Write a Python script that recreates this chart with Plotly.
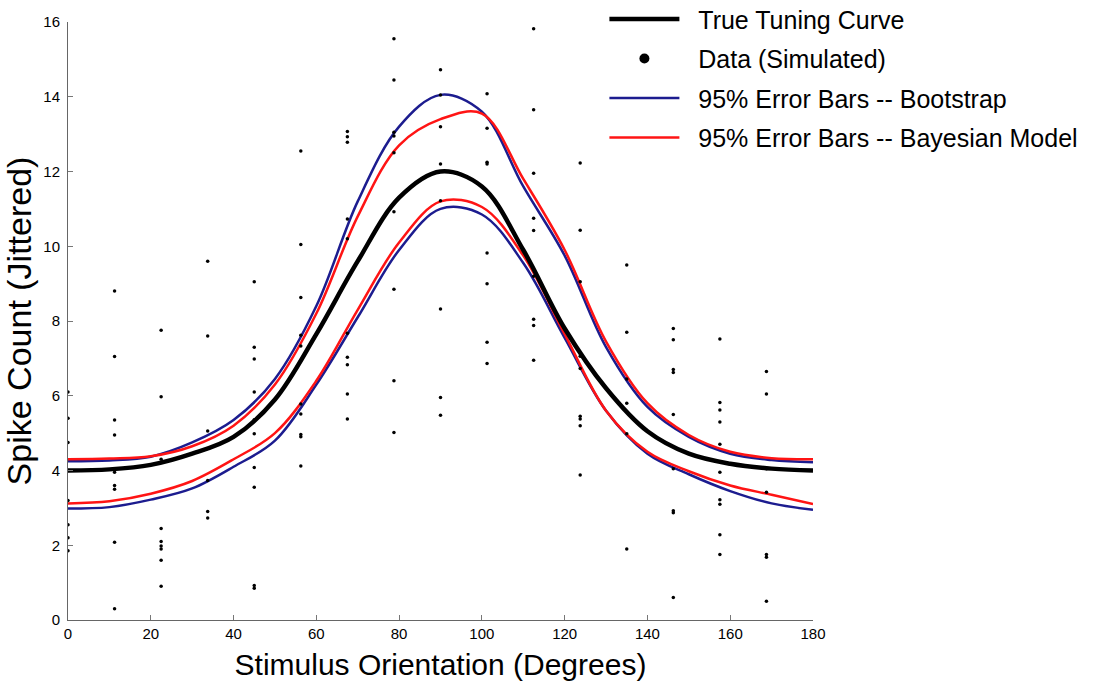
import plotly.graph_objects as go

# ---- data ----
orientations = [0, 11.25, 22.5, 33.75, 45, 56.25, 67.5, 78.75, 90,
                101.25, 112.5, 123.75, 135, 146.25, 157.5, 168.75]
spike_counts = [
    [6.1, 5.4, 4.75, 4.0, 3.2, 2.55, 2.2, 1.85],
    [8.8, 7.05, 5.35, 4.95, 3.95, 3.6, 3.5, 2.08, 0.3],
    [7.75, 5.97, 4.3, 2.45, 2.1, 1.98, 1.9, 1.6, 0.9],
    [9.6, 7.6, 5.06, 3.73, 2.9, 2.73],
    [9.05, 7.3, 6.98, 6.1, 5.36, 4.98, 4.08, 3.55, 0.92, 0.85],
    [12.55, 10.05, 8.63, 7.62, 7.33, 5.78, 5.51, 4.96, 4.9, 4.12],
    [13.07, 12.93, 12.78, 10.73, 10.2, 7.67, 7.03, 6.83, 6.05, 5.38],
    [15.55, 14.45, 13.05, 12.95, 12.5, 10.92, 8.85, 6.4, 5.02],
    [14.72, 14.05, 13.2, 12.2, 11.22, 8.32, 5.95, 5.48],
    [14.08, 13.16, 12.25, 12.2, 9.82, 9.0, 7.43, 6.86],
    [15.82, 13.65, 11.95, 10.75, 10.42, 9.2, 8.05, 7.88, 6.95],
    [12.23, 10.43, 9.05, 7.06, 6.73, 5.45, 5.38, 5.2, 3.88],
    [9.5, 7.7, 6.45, 5.8, 4.98, 1.9],
    [7.8, 7.5, 6.7, 6.62, 5.5, 4.05, 2.92, 2.87, 0.6],
    [7.52, 5.82, 5.62, 5.3, 4.7, 3.95, 3.22, 3.1, 2.28, 1.75],
    [6.65, 6.05, 4.05, 3.42, 1.75, 1.68, 0.5],
]

curve_x = [0, 10, 20, 30, 40, 50, 60, 70, 80, 90,
           100, 110, 120, 130, 140, 150, 160, 170, 180]
true_curve = [4.0, 4.03, 4.15, 4.45, 4.9, 5.9, 7.65, 9.6, 11.3, 12.0,
              11.6, 9.9, 7.8, 6.2, 5.05, 4.45, 4.18, 4.05, 4.0]
boot_upper = [4.25, 4.27, 4.37, 4.75, 5.35, 6.45, 8.4, 11.2, 13.2, 14.05,
              13.6, 11.6, 9.75, 7.3, 5.7, 4.9, 4.45, 4.28, 4.22]
boot_lower = [2.98, 3.02, 3.22, 3.52, 4.1, 4.8, 6.3, 8.1, 9.9, 11.0,
              10.85, 9.55, 7.55, 5.6, 4.45, 3.9, 3.45, 3.12, 2.95]
bayes_upper = [4.3, 4.32, 4.38, 4.65, 5.2, 6.3, 8.2, 10.8, 12.7, 13.4,
               13.55, 11.8, 9.9, 7.45, 5.8, 4.95, 4.5, 4.33, 4.3]
bayes_lower = [3.12, 3.18, 3.38, 3.72, 4.3, 5.0, 6.4, 8.3, 10.1, 11.2,
               11.05, 9.75, 7.65, 5.6, 4.5, 3.98, 3.6, 3.35, 3.1]

x_ticks = [0, 20, 40, 60, 80, 100, 120, 140, 160, 180]
y_ticks = [0, 2, 4, 6, 8, 10, 12, 14, 16]

BLUE = "#1c1c8f"
RED = "#ff1414"
PAD = "\u00a0\u00a0"

dots_x = []
dots_y = []
for ang, vals in zip(orientations, spike_counts):
    for v in vals:
        dots_x.append(ang)
        dots_y.append(v)

fig = go.Figure()

fig.add_trace(go.Scatter(x=curve_x, y=boot_upper, mode="lines", line=dict(color=BLUE, width=2.5, shape="spline"),
                         name=PAD + "95% Error Bars -- Bootstrap", legendgroup="c", legendrank=3))
fig.add_trace(go.Scatter(x=curve_x, y=boot_lower, mode="lines", line=dict(color=BLUE, width=2.5, shape="spline"),
                         showlegend=False, legendgroup="c"))
fig.add_trace(go.Scatter(x=curve_x, y=bayes_upper, mode="lines", line=dict(color=RED, width=2.5, shape="spline"),
                         name=PAD + "95% Error Bars -- Bayesian Model", legendgroup="d", legendrank=4))
fig.add_trace(go.Scatter(x=curve_x, y=bayes_lower, mode="lines", line=dict(color=RED, width=2.5, shape="spline"),
                         showlegend=False, legendgroup="d"))
fig.add_trace(go.Scatter(x=curve_x, y=true_curve, mode="lines", line=dict(color="black", width=4.5, shape="spline"),
                         name=PAD + "True Tuning Curve", legendgroup="a", legendrank=1))
fig.add_trace(go.Scatter(x=dots_x, y=dots_y, mode="markers", marker=dict(color="black", size=3.5),
                         showlegend=False, legendgroup="b"))
fig.add_trace(go.Scatter(x=[None], y=[None], mode="markers", marker=dict(color="black", size=10),
                         name=PAD + "Data (Simulated)", legendgroup="b", legendrank=2))

fig.update_layout(
    width=1112, height=696,
    margin=dict(l=68, r=299, t=22, b=76, autoexpand=False),
    paper_bgcolor="white", plot_bgcolor="white",
    font=dict(family="Arial, Liberation Sans, sans-serif", color="black"),
    showlegend=True,
    legend=dict(x=0.72, y=1.043, xanchor="left", yanchor="top",
                font=dict(size=25, color="black"), bgcolor="rgba(0,0,0,0)",
                itemwidth=70, tracegroupgap=4, traceorder="grouped"),
    xaxis=dict(range=[0, 180], tickvals=x_ticks, ticks="inside", ticklen=5, tickcolor="#777",
               showline=True, linecolor="#666", linewidth=1, showgrid=False, zeroline=False,
               tickfont=dict(size=15), title=dict(text="Stimulus Orientation (Degrees)", font=dict(size=30), standoff=12),
               mirror=False),
    yaxis=dict(range=[0, 16], tickvals=y_ticks, ticks="inside", ticklen=5, tickcolor="#777",
               showline=True, linecolor="#666", linewidth=1, showgrid=False, zeroline=False,
               ticklabelstandoff=4,
               tickfont=dict(size=15), title=dict(text="Spike Count (Jittered)", font=dict(size=34), standoff=4)),
)

fig.write_html("out.html")
